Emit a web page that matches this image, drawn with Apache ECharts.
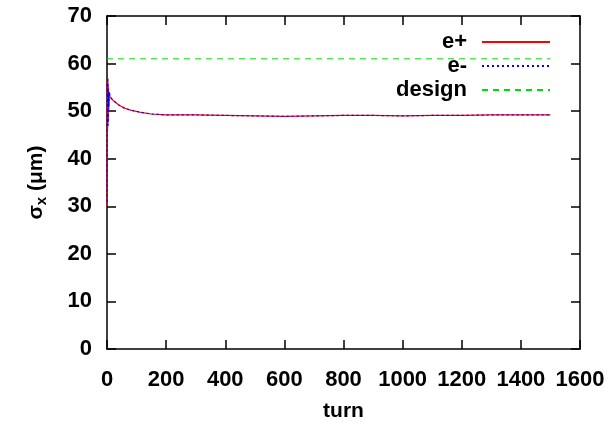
<!DOCTYPE html>
<html>
<head>
<meta charset="utf-8">
<script src="https://cdn.jsdelivr.net/npm/echarts@6/dist/echarts.min.js"></script>
<style>
  html, body { margin: 0; padding: 0; background: #fff; }
  #chart { width: 613px; height: 429px; }
</style>
</head>
<body>
<div id="chart"></div>
<script>
// turn numbers and beam size (um)
let turns = [0, 1, 2, 3, 4, 5, 6, 8, 10, 20, 40, 60, 80, 110, 150, 200, 300, 400, 500, 600, 700, 800, 900, 1000, 1100, 1200, 1300, 1400, 1500];
let ePlus = [30, 57, 46, 56, 48, 55, 50, 54, 53, 52.3, 51.3, 50.6, 50.2, 49.8, 49.4, 49.2, 49.2, 49.1, 49.0, 48.9, 49.0, 49.1, 49.1, 49.0, 49.1, 49.1, 49.2, 49.2, 49.2];
let eMinus = [31, 56, 47, 57, 47, 54, 51, 54, 53, 52.3, 51.3, 50.6, 50.2, 49.8, 49.4, 49.2, 49.2, 49.1, 49.0, 48.9, 49.0, 49.1, 49.1, 49.0, 49.1, 49.1, 49.2, 49.2, 49.2];
let designTurns = [0, 1500];
let designSize = [61, 61];
let xTicks = [0, 200, 400, 600, 800, 1000, 1200, 1400, 1600];
let yTicks = [0, 10, 20, 30, 40, 50, 60, 70];

var font = "'Liberation Sans', Arial, sans-serif";
var myChart = echarts.init(document.getElementById('chart'));

function pairs(xs, ys) {
    return xs.map((x, i) => [x, ys[i]]);
}

var axisLine = { onZero: false, lineStyle: { color: '#000', width: 1.5 } };
var tick = { inside: true, length: 9, lineStyle: { color: '#000', width: 1.5 } };

var option = {
    animation: false,
    backgroundColor: '#fff',
    grid: { left: 107, right: 33, top: 16, bottom: 80, containLabel: false },
    xAxis: [
        {
            type: 'value', min: xTicks[0], max: xTicks[xTicks.length - 1], interval: 200,
            name: 'turn', nameLocation: 'middle', nameGap: 52,
            nameTextStyle: { fontFamily: font, fontWeight: 'bold', fontSize: 21, color: '#000' },
            axisLine: axisLine, axisTick: tick, splitLine: { show: false },
            axisLabel: { fontFamily: font, fontWeight: 'bold', fontSize: 22, color: '#000', margin: 20, formatter: v => String(v) }
        },
        {
            type: 'value', position: 'top', min: xTicks[0], max: xTicks[xTicks.length - 1], interval: 200,
            axisLine: axisLine, axisTick: tick, axisLabel: { show: false }, splitLine: { show: false }
        }
    ],
    yAxis: [
        {
            type: 'value', min: yTicks[0], max: yTicks[yTicks.length - 1], interval: 10,
            name: '{a|σ}{b|x}{a| (μm)}', nameLocation: 'middle', nameGap: 58, nameRotate: 90,
            nameTextStyle: {
                rich: {
                    a: { fontFamily: font, fontWeight: 'bold', fontSize: 21, color: '#000' },
                    b: { fontFamily: font, fontWeight: 'bold', fontSize: 15, color: '#000', padding: [10, 0, 0, 0] }
                }
            },
            axisLine: axisLine, axisTick: tick, splitLine: { show: false },
            axisLabel: { fontFamily: font, fontWeight: 'bold', fontSize: 22, color: '#000', margin: 15 }
        },
        {
            type: 'value', position: 'right', min: yTicks[0], max: yTicks[yTicks.length - 1], interval: 10,
            axisLine: axisLine, axisTick: tick, axisLabel: { show: false }, splitLine: { show: false }
        }
    ],
    legend: {
        orient: 'vertical', right: 57, top: 26, align: 'right',
        itemWidth: 68, itemHeight: 14, itemGap: 2,
        itemStyle: { opacity: 0 },
        textStyle: { fontFamily: font, fontWeight: 'bold', fontSize: 22, lineHeight: 18, color: '#000', width: 90, align: 'right', padding: [0, 10, 0, 0] },
        data: ['e+', 'e-', 'design']
    },
    series: [
        {
            name: 'e+', type: 'line', showSymbol: false, data: pairs(turns, ePlus),
            lineStyle: { color: '#ff0000', width: 1.2 }, itemStyle: { color: '#ff0000' }, z: 3
        },
        {
            name: 'e-', type: 'line', showSymbol: false, data: pairs(turns, eMinus),
            lineStyle: { color: '#0000ff', width: 1.2, type: [2, 3] }, itemStyle: { color: '#0000ff' }, z: 4
        },
        {
            name: 'design', type: 'line', showSymbol: false, data: pairs(designTurns, designSize),
            lineStyle: { color: '#00dd00', width: 1, type: [6, 5] }, itemStyle: { color: '#00dd00' }, z: 2
        }
    ]
};

myChart.setOption(option);
</script>
</body>
</html>
